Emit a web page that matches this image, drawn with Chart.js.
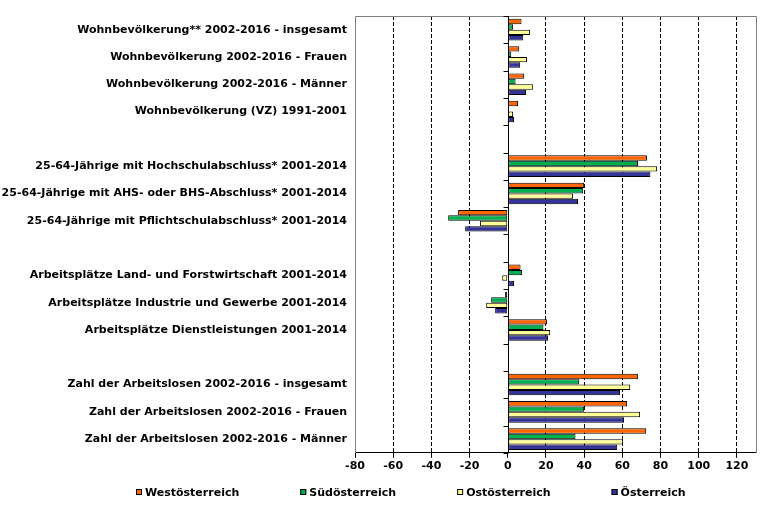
<!DOCTYPE html>
<html>
<head>
<meta charset="utf-8">
<script src="https://cdn.jsdelivr.net/npm/chart.js@4/dist/chart.umd.min.js"></script>
<style>
  body { margin: 0; background: #fff; }
</style>
</head>
<body>
<canvas id="myChart" width="777" height="520"></canvas>
<script>
// categories, top to bottom (empty entries are the gaps between blocks)
var categories = [
    "Wohnbevölkerung** 2002-2016 - insgesamt",
    "Wohnbevölkerung 2002-2016 - Frauen",
    "Wohnbevölkerung 2002-2016 - Männer",
    "Wohnbevölkerung (VZ) 1991-2001",
    "",
    "25-64-Jährige mit Hochschulabschluss* 2001-2014",
    "25-64-Jährige mit AHS- oder BHS-Abschluss* 2001-2014",
    "25-64-Jährige mit Pflichtschulabschluss* 2001-2014",
    "",
    "Arbeitsplätze Land- und Forstwirtschaft 2001-2014",
    "Arbeitsplätze Industrie und Gewerbe 2001-2014",
    "Arbeitsplätze Dienstleistungen 2001-2014",
    "",
    "Zahl der Arbeitslosen 2002-2016 - insgesamt",
    "Zahl der Arbeitslosen 2002-2016 - Frauen",
    "Zahl der Arbeitslosen 2002-2016 - Männer"
];

var seriesNames = ["Westösterreich", "Südösterreich", "Ostösterreich", "Österreich"];

// change in %
var west = [7.2, 6.0, 8.6, 5.4, null, 72.9, 40.0, -26.0, null, 6.7, -1.4, 20.6, null, 68.3, 62.5, 72.5];
var sued = [2.8, 1.8, 4.1, 0.6, null, 68.2, 39.5, -31.2, null, 7.5, -8.7, 18.7, null, 37.4, 40.0, 35.5];
var ost  = [11.7, 10.1, 13.3, 2.8, null, 78.2, 34.2, -14.5, null, -2.9, -11.3, 22.2, null, 64.1, 69.3, 60.4];
var oesterreich = [8.1, 6.5, 9.6, 3.3, null, 74.7, 36.8, -22.3, null, 3.3, -6.6, 21.1, null, 58.8, 60.9, 57.3];

var xMin = -80;
var xMax = 130;
var xStep = 20;

var colors = ["#ff6600", "#00b050", "#ffff99", "#333399"];
var fontFam = "'DejaVu Sans', Verdana, sans-serif";
var boldFont = "bold 11px " + fontFam;

// frame, zero line and the small marks on the zero line
var rahmen = {
    id: "rahmen",
    afterDatasetsDraw: function(chart){
        var ctx = chart.ctx;
        var a = chart.chartArea;
        var xs = chart.scales.x;
        var ys = chart.scales.y;
        var x0 = Math.round(xs.getPixelForValue(0)) + 0.5;
        ctx.save();
        ctx.lineWidth = 1;
        // grey frame
        ctx.strokeStyle = "#808080";
        ctx.beginPath();
        ctx.moveTo(Math.round(a.left) + 0.5, Math.round(a.bottom));
        ctx.lineTo(Math.round(a.left) + 0.5, Math.round(a.top) + 0.5);
        ctx.lineTo(Math.round(a.right) + 0.5, Math.round(a.top) + 0.5);
        ctx.lineTo(Math.round(a.right) + 0.5, Math.round(a.bottom));
        ctx.stroke();
        // zero line
        ctx.strokeStyle = "#000";
        ctx.beginPath();
        ctx.moveTo(x0, a.top);
        ctx.lineTo(x0, a.bottom);
        var n = categories.length;
        var h = (ys.getPixelForValue(1) - ys.getPixelForValue(0));
        for (var i = 0; i <= n; i++) {
            var yy = Math.round(ys.getPixelForValue(0) - h / 2 + i * h) + 0.5;
            ctx.moveTo(x0 - 5, yy);
            ctx.lineTo(x0, yy);
        }
        ctx.stroke();
        ctx.restore();
    }
};

// legend in one row like in excel (equal gaps between the entries)
var legende = {
    id: "legende",
    afterDraw: function(chart){
        var ctx = chart.ctx;
        var sets = chart.data.datasets;
        var gap = 61, box = 6, centerX = 411, y = 492;
        ctx.save();
        ctx.font = boldFont;
        var widths = sets.map(function(d){ return box + 3 + ctx.measureText(d.label).width; });
        var total = widths.reduce(function(s, w){ return s + w; }, 0) + gap * (sets.length - 1);
        var x = Math.round(centerX - total / 2);
        sets.forEach(function(d, i){
            ctx.fillStyle = d.backgroundColor;
            ctx.fillRect(x, y - 3, box, box);
            ctx.strokeStyle = "#000";
            ctx.lineWidth = 1;
            ctx.strokeRect(x + 0.5, y - 2.5, box - 1, box - 1);
            ctx.fillStyle = "#000";
            ctx.textBaseline = "middle";
            ctx.fillText(d.label, x + box + 3, y + 1);
            x += widths[i] + gap;
        });
        ctx.restore();
    }
};

var data = [west, sued, ost, oesterreich];
var datasets = [];
for (var k = 0; k < data.length; k++) {
    datasets.push({
        label: seriesNames[k],
        data: data[k],
        backgroundColor: colors[k],
        borderColor: "#000",
        borderWidth: 1,
        borderSkipped: false,
        categoryPercentage: 0.79,
        barPercentage: 1
    });
}

var myChart = document.getElementById("myChart").getContext("2d");
var chart = new Chart(myChart, {
    type: "bar",
    data: {
        labels: categories,
        datasets: datasets
    },
    options: {
        indexAxis: "y",
        responsive: false,
        animation: false,
        events: [],
        layout: {
            padding: { left: 0, right: 21, top: 16, bottom: 45 }
        },
        plugins: {
            tooltip: { enabled: false },
            legend: { display: false }
        },
        scales: {
            x: {
                min: xMin,
                max: xMax,
                ticks: {
                    stepSize: xStep,
                    includeBounds: false,
                    color: "#000",
                    padding: 2,
                    font: { family: fontFam, size: 11, weight: "bold" }
                },
                grid: {
                    color: function(c){
                        if (c.tick && (c.tick.value === 0 || c.tick.value === xMin)) return "rgba(0,0,0,0)";
                        return "#000";
                    },
                    tickColor: "#000",
                    tickLength: 5,
                    tickBorderDash: [],
                    lineWidth: 1
                },
                border: { display: true, color: "#000", width: 1, dash: [4, 2] }
            },
            y: {
                afterFit: function(scale){ scale.width = 355; },
                ticks: {
                    color: "#000",
                    padding: 8,
                    autoSkip: false,
                    font: { family: fontFam, size: 11, weight: "bold" }
                },
                grid: { display: false, drawTicks: false },
                border: { display: false }
            }
        }
    },
    plugins: [rahmen, legende]
});
</script>
</body>
</html>
